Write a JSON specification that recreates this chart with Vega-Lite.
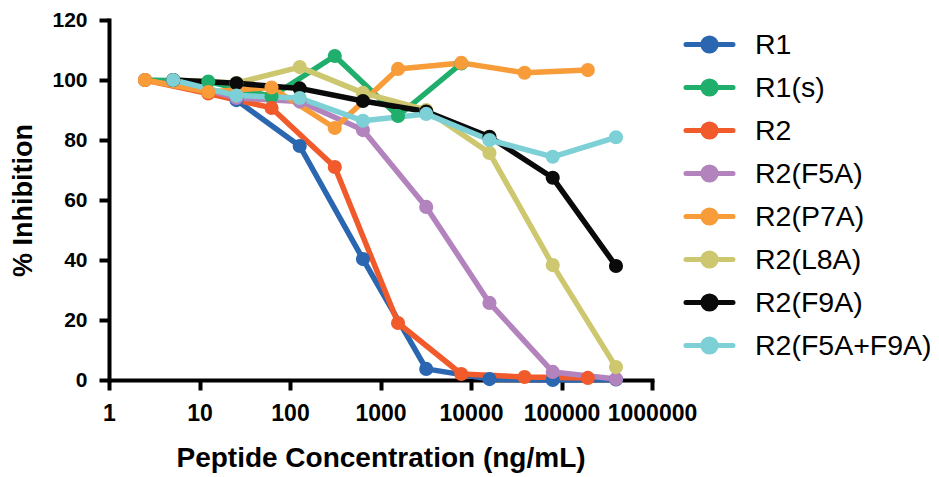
{
  "$schema": "https://vega.github.io/schema/vega-lite/v6.json",
  "width": 543,
  "height": 360,
  "autosize": {"type": "none"},
  "padding": {"left": 109, "top": 20, "right": 287, "bottom": 97},
  "background": "white",
  "config": {
    "view": {"stroke": null},
    "axis": {
      "grid": false,
      "domainWidth": 4,
      "domainColor": "black",
      "domainCap": "square",
      "tickWidth": 4,
      "tickColor": "black",
      "tickSize": 10,
      "labelFont": "Liberation Sans",
      "labelFontWeight": "bold",
      "labelColor": "black",
      "labelPadding": 12,
      "labelOverlap": false,
      "labelFlush": false,
      "labelBound": false,
      "titleFont": "Liberation Sans",
      "titleFontWeight": "bold",
      "titleColor": "black"
    }
  },
  "data": {
    "values": [
      {"series": "R1", "conc": 5.12, "inhibition": 100},
      {"series": "R1", "conc": 25.6, "inhibition": 93.3},
      {"series": "R1", "conc": 128, "inhibition": 78},
      {"series": "R1", "conc": 640, "inhibition": 40.3},
      {"series": "R1", "conc": 3200, "inhibition": 3.7},
      {"series": "R1", "conc": 16000, "inhibition": 0.3},
      {"series": "R1", "conc": 80000, "inhibition": 0},
      {"series": "R1", "conc": 400000, "inhibition": 0.2},
      {"series": "R1(s)", "conc": 2.5, "inhibition": 100},
      {"series": "R1(s)", "conc": 12.5, "inhibition": 99.5},
      {"series": "R1(s)", "conc": 62.5, "inhibition": 94.5},
      {"series": "R1(s)", "conc": 312.5, "inhibition": 108},
      {"series": "R1(s)", "conc": 1562.5, "inhibition": 88},
      {"series": "R1(s)", "conc": 7812.5, "inhibition": 105.5},
      {"series": "R2", "conc": 2.5, "inhibition": 100},
      {"series": "R2", "conc": 12.5, "inhibition": 95.5},
      {"series": "R2", "conc": 62.5, "inhibition": 90.7},
      {"series": "R2", "conc": 312.5, "inhibition": 71},
      {"series": "R2", "conc": 1562.5, "inhibition": 19},
      {"series": "R2", "conc": 7812.5, "inhibition": 2},
      {"series": "R2", "conc": 39062.5, "inhibition": 1},
      {"series": "R2", "conc": 195312.5, "inhibition": 0.7},
      {"series": "R2(F5A)", "conc": 5.12, "inhibition": 100},
      {"series": "R2(F5A)", "conc": 25.6, "inhibition": 94},
      {"series": "R2(F5A)", "conc": 128, "inhibition": 92.8},
      {"series": "R2(F5A)", "conc": 640, "inhibition": 83.3},
      {"series": "R2(F5A)", "conc": 3200, "inhibition": 57.7},
      {"series": "R2(F5A)", "conc": 16000, "inhibition": 25.7},
      {"series": "R2(F5A)", "conc": 80000, "inhibition": 2.7},
      {"series": "R2(F5A)", "conc": 400000, "inhibition": 0.3},
      {"series": "R2(P7A)", "conc": 2.5, "inhibition": 100},
      {"series": "R2(P7A)", "conc": 12.5, "inhibition": 96},
      {"series": "R2(P7A)", "conc": 62.5, "inhibition": 97.5},
      {"series": "R2(P7A)", "conc": 312.5, "inhibition": 84},
      {"series": "R2(P7A)", "conc": 1562.5, "inhibition": 103.7},
      {"series": "R2(P7A)", "conc": 7812.5, "inhibition": 105.7},
      {"series": "R2(P7A)", "conc": 39062.5, "inhibition": 102.4},
      {"series": "R2(P7A)", "conc": 195312.5, "inhibition": 103.3},
      {"series": "R2(L8A)", "conc": 5.12, "inhibition": 100},
      {"series": "R2(L8A)", "conc": 25.6, "inhibition": 99},
      {"series": "R2(L8A)", "conc": 128, "inhibition": 104.3},
      {"series": "R2(L8A)", "conc": 640, "inhibition": 95.7},
      {"series": "R2(L8A)", "conc": 3200, "inhibition": 90},
      {"series": "R2(L8A)", "conc": 16000, "inhibition": 75.7},
      {"series": "R2(L8A)", "conc": 80000, "inhibition": 38.3},
      {"series": "R2(L8A)", "conc": 400000, "inhibition": 4.3},
      {"series": "R2(F9A)", "conc": 5.12, "inhibition": 100},
      {"series": "R2(F9A)", "conc": 25.6, "inhibition": 98.9},
      {"series": "R2(F9A)", "conc": 128, "inhibition": 97.2},
      {"series": "R2(F9A)", "conc": 640, "inhibition": 93},
      {"series": "R2(F9A)", "conc": 3200, "inhibition": 89.5},
      {"series": "R2(F9A)", "conc": 16000, "inhibition": 81.1},
      {"series": "R2(F9A)", "conc": 80000, "inhibition": 67.4},
      {"series": "R2(F9A)", "conc": 400000, "inhibition": 38},
      {"series": "R2(F5A+F9A)", "conc": 5.12, "inhibition": 100},
      {"series": "R2(F5A+F9A)", "conc": 25.6, "inhibition": 94.8},
      {"series": "R2(F5A+F9A)", "conc": 128, "inhibition": 94},
      {"series": "R2(F5A+F9A)", "conc": 640, "inhibition": 86.4},
      {"series": "R2(F5A+F9A)", "conc": 3200, "inhibition": 88.7},
      {"series": "R2(F5A+F9A)", "conc": 16000, "inhibition": 80},
      {"series": "R2(F5A+F9A)", "conc": 80000, "inhibition": 74.4},
      {"series": "R2(F5A+F9A)", "conc": 400000, "inhibition": 80.9}
    ]
  },
  "mark": {
    "type": "line",
    "strokeWidth": 5.5,
    "strokeCap": "round",
    "strokeJoin": "round",
    "point": {"size": 200, "filled": true, "opacity": 1}
  },
  "encoding": {
    "x": {
      "field": "conc",
      "type": "quantitative",
      "scale": {"type": "log", "domain": [1, 1000000]},
      "axis": {
        "values": [1, 10, 100, 1000, 10000, 100000, 1000000],
        "format": "d",
        "title": "Peptide Concentration (ng/mL)",
        "labelFontSize": 23,
        "titleFontSize": 28,
        "titlePadding": 19
      }
    },
    "y": {
      "field": "inhibition",
      "type": "quantitative",
      "scale": {"domain": [0, 120]},
      "axis": {
        "values": [0, 20, 40, 60, 80, 100, 120],
        "title": "% Inhibition",
        "labelFontSize": 21,
        "titleFontSize": 27,
        "titlePadding": 14
      }
    },
    "color": {
      "field": "series",
      "type": "nominal",
      "scale": {
        "domain": ["R1", "R1(s)", "R2", "R2(F5A)", "R2(P7A)", "R2(L8A)", "R2(F9A)", "R2(F5A+F9A)"],
        "range": ["#2b66b0", "#1fae6b", "#f15a2b", "#b383bd", "#f89c3a", "#cdc86f", "#0a0a0a", "#7dd0d6"]
      },
      "legend": {
        "title": null,
        "orient": "none",
        "legendX": 583,
        "legendY": 7,
        "padding": 0,
        "symbolType": "M-1.6,0L1.6,0M0.45,0A0.45,0.45,0,1,1,-0.45,0A0.45,0.45,0,1,1,0.45,0",
        "symbolSize": 864,
        "symbolStrokeWidth": 5,
        "labelFont": "Liberation Sans",
        "labelFontSize": 28.5,
        "labelColor": "black",
        "labelOffset": 28,
        "labelLimit": 300,
        "rowPadding": 8,
        "encode": {
          "symbols": {
            "update": {
              "fill": {"scale": "color", "field": "value"},
              "stroke": {"scale": "color", "field": "value"},
              "strokeCap": {"value": "round"},
              "opacity": {"value": 1}
            }
          }
        }
      }
    }
  }
}
